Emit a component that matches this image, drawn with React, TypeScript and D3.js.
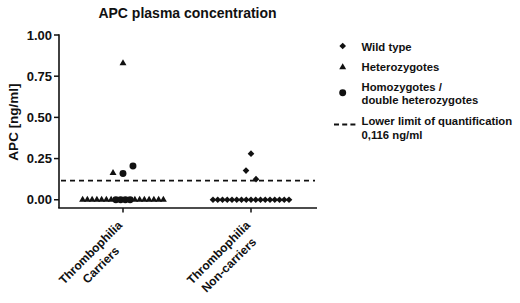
import React from "react";
import * as d3 from "d3";

// ---- data ----
const title = "APC plasma concentration";
const yLabel = "APC [ng/ml]";
const yTicks = [0, 0.25, 0.5, 0.75, 1.0];
const categories = ["carriers", "noncarriers"];
const categoryLines = [
  ["Thrombophilia", "Carriers"],
  ["Thrombophilia", "Non-carriers"],
];
const lloq = 0.116;

// Carriers: genotype and value, in left-to-right order within each row
const carrierGenotypes = [
  "het", "het", "het", "het", "het", "het", "het",
  "homo", "homo", "homo", "homo",
  "het", "het", "het", "het", "het", "het", "het",
  "het", "homo", "homo", "het",
];
const carrierValues = [
  0, 0, 0, 0, 0, 0, 0,
  0, 0, 0, 0,
  0, 0, 0, 0, 0, 0, 0,
  0.163, 0.159, 0.205, 0.828,
];
// Non-carriers: all wild type
const nonCarrierGenotypes = [
  "wild", "wild", "wild", "wild", "wild", "wild", "wild", "wild", "wild",
  "wild", "wild", "wild", "wild", "wild", "wild", "wild", "wild",
  "wild", "wild", "wild",
];
const nonCarrierValues = [
  0, 0, 0, 0, 0, 0, 0, 0, 0, 0, 0, 0, 0, 0, 0, 0, 0,
  0.177, 0.28, 0.125,
];

const legendItems = [
  { key: "wild", lines: ["Wild type"] },
  { key: "het", lines: ["Heterozygotes"] },
  { key: "homo", lines: ["Homozygotes /", "double heterozygotes"] },
  { key: "lloq", lines: ["Lower limit of quantification", "0,116 ng/ml"] },
];

// ---- layout ----
const W = 520;
const H = 303;
const FONT = "'Liberation Sans', Arial, Helvetica, sans-serif";
const INK = "#111";
const axisLeft = 59;
const axisRight = 317;
const axisBottom = 208;
const axisTop = 35;

const y = d3.scaleLinear().domain([-0.05, 1]).range([axisBottom, axisTop]);
const x = d3.scalePoint<string>().domain(categories).range([axisLeft, 315]).padding(0.5);
const slot = 4.75;

type Pt = { g: string; v: number; px: number; py: number };

function layout(genotypes: string[], values: number[], cx: number): Pt[] {
  const rows: { y0: number; items: number[] }[] = [];
  values.forEach((v, i) => {
    const py = y(v);
    let row = rows.find((r) => Math.abs(r.y0 - py) < 10);
    if (!row) {
      row = { y0: py, items: [] };
      rows.push(row);
    }
    row.items.push(i);
  });
  const pts: Pt[] = [];
  rows.forEach((r) => {
    const n = r.items.length;
    const same = r.items.every((i) => values[i] === values[r.items[0]]);
    const gap = same ? slot : slot * 2.1;
    r.items.forEach((i, k) => {
      pts.push({ g: genotypes[i], v: values[i], px: cx + (k - (n - 1) / 2) * gap, py: y(values[i]) });
    });
  });
  return pts;
}

const symPath: Record<string, string> = {
  wild: d3.symbol().type(d3.symbolSquare).size(22)() as string,
  het: d3.symbol().type(d3.symbolTriangle).size(21)() as string,
  homo: d3.symbol().type(d3.symbolCircle).size(38)() as string,
};
const symRot: Record<string, number> = { wild: 45, het: 0, homo: 0 };

function Sym({ g, px, py }: { g: string; px: number; py: number }) {
  return (
    <path
      d={symPath[g]}
      transform={`translate(${px},${py}) rotate(${symRot[g]})`}
      fill={INK}
    />
  );
}

export default function App() {
  const carrierPts = layout(carrierGenotypes, carrierValues, x("carriers") as number);
  const nonPts = layout(nonCarrierGenotypes, nonCarrierValues, x("noncarriers") as number);
  const allPts = [...carrierPts, ...nonPts];

  const legendX = 342.7;
  const legendTextX = 361.5;
  const legendSymY = [46, 67.3, 92.7, 124.5];
  const legendBase = [[50.5], [70.5], [90.5, 104], [125, 139]];

  return (
    <svg
      width={W}
      height={H}
      viewBox={`0 0 ${W} ${H}`}
      style={{ position: "absolute", left: 0, top: 0, background: "#fff" }}
      fontFamily={FONT}
      fontWeight="bold"
    >
      <rect width={W} height={H} fill="#fff" />
      <text x={187.5} y={18} textAnchor="middle" fontSize={14} fill={INK}>
        {title}
      </text>

      {/* y axis */}
      <line x1={axisLeft} x2={axisLeft} y1={axisTop - 0.7} y2={axisBottom} stroke={INK} strokeWidth={1.6} />
      {yTicks.map((t) => (
        <g key={t}>
          <line x1={axisLeft - 5} x2={axisLeft} y1={y(t)} y2={y(t)} stroke={INK} strokeWidth={1.5} />
          <text x={axisLeft - 7} y={y(t)} dy="0.36em" textAnchor="end" fontSize={13} fill={INK}>
            {d3.format(".2f")(t)}
          </text>
        </g>
      ))}
      <text
        transform={`translate(18,122) rotate(-90)`}
        textAnchor="middle"
        fontSize={13.5}
        fill={INK}
      >
        {yLabel}
      </text>

      {/* x axis */}
      <line x1={axisLeft - 0.8} x2={axisRight} y1={axisBottom} y2={axisBottom} stroke={INK} strokeWidth={1.6} />
      {categories.map((c, i) => {
        const tx = x(c) as number;
        return (
          <g key={c}>
            <line x1={tx} x2={tx} y1={axisBottom} y2={axisBottom + 4.5} stroke={INK} strokeWidth={1.5} />
            <g transform={`translate(${tx},${axisBottom}) rotate(-45)`}>
              {categoryLines[i].map((ln, k) => (
                <text
                  key={k}
                  x={-54.5 - k * 1.5}
                  y={8.5 + k * 16}
                  dy="0.35em"
                  textAnchor="middle"
                  fontSize={12}
                  fill={INK}
                >
                  {ln}
                </text>
              ))}
            </g>
          </g>
        );
      })}

      {/* lower limit of quantification */}
      <line
        x1={axisLeft + 2}
        x2={315}
        y1={y(lloq)}
        y2={y(lloq)}
        stroke={INK}
        strokeWidth={1.8}
        strokeDasharray="5,4"
      />

      {/* points */}
      {allPts.map((p, i) => (
        <Sym key={i} g={p.g} px={p.px} py={p.py} />
      ))}

      {/* legend */}
      {legendItems.map((it, i) => (
        <g key={it.key}>
          {it.key === "lloq" ? (
            <line
              x1={334}
              x2={355.5}
              y1={legendSymY[i]}
              y2={legendSymY[i]}
              stroke={INK}
              strokeWidth={1.8}
              strokeDasharray="5,3.2"
            />
          ) : (
            <Sym g={it.key} px={legendX} py={legendSymY[i]} />
          )}
          {it.lines.map((ln, k) => (
            <text key={k} x={legendTextX} y={legendBase[i][k]} fontSize={11.3} fill={INK}>
              {ln}
            </text>
          ))}
        </g>
      ))}
    </svg>
  );
}
